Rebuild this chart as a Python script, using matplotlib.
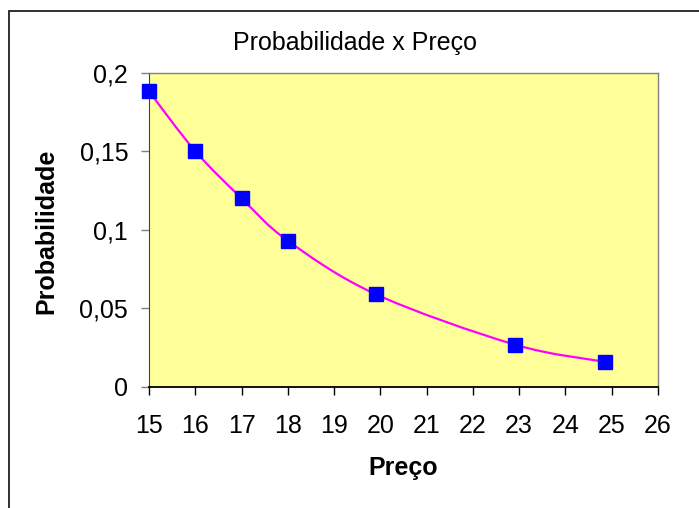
import numpy as np
import matplotlib.pyplot as plt
from matplotlib.path import Path
from matplotlib.patches import PathPatch, Rectangle

plt.rcParams['font.family'] = ['Liberation Sans', 'DejaVu Sans']

# data
preco = [15, 16, 17, 18, 19.9, 22.9, 24.85]
probabilidade = [0.188, 0.150, 0.120, 0.093, 0.059, 0.027, 0.016]
x_ticks = list(range(15, 27))
y_ticks = [0, 0.05, 0.1, 0.15, 0.2]
y_tick_labels = ['0', '0,05', '0,1', '0,15', '0,2']


def smooth_path(xs, ys):
    # Excel-style smoothed line (Catmull-Rom as cubic Bezier)
    pts = np.column_stack([xs, ys])
    ext = np.vstack([pts[0], pts, pts[-1]])
    verts = [pts[0]]
    codes = [Path.MOVETO]
    for i in range(1, len(ext) - 2):
        p0, p1, p2, p3 = ext[i - 1], ext[i], ext[i + 1], ext[i + 2]
        verts += [p1 + (p2 - p0) / 6, p2 - (p3 - p1) / 6, p2]
        codes += [Path.CURVE4] * 3
    return Path(verts, codes)


W, H = 699, 508
fig = plt.figure(figsize=(W / 100, H / 100), dpi=100)
ax = fig.add_axes([149 / W, 1 - 387 / H, 509 / W, 314.5 / H])
ax.set_facecolor('#FFFF99')

ax.add_patch(PathPatch(smooth_path(preco, probabilidade), facecolor='none',
                       edgecolor='#FF00FF', lw=1.6, zorder=2))
ax.plot(preco, probabilidade, ls='none', marker='s', ms=10,
        color='#0000FF', zorder=3, clip_on=False)

ax.set_xlim(15, 26)
ax.set_ylim(0, 0.2)
ax.set_xticks(x_ticks)
ax.set_yticks(y_ticks)
ax.set_yticklabels(y_tick_labels)

ax.tick_params(axis='x', direction='out', length=6, width=1, color='black',
               labelsize=18, pad=13.5)
ax.tick_params(axis='y', direction='out', length=6, width=1, color='#808080',
               labelsize=18, pad=9)
ax.spines['bottom'].set_color('black')
ax.spines['bottom'].set_linewidth(1.3)
ax.spines['left'].set_color('#404040')
for s in ['top', 'right']:
    ax.spines[s].set_color('#808080')
    ax.spines[s].set_linewidth(1)

fig.text(355 / W, 1 - 50 / H, 'Probabilidade x Preço', ha='center',
         va='baseline', fontsize=18)
fig.text(403.5 / W, 1 - 475 / H, 'Preço', ha='center', va='baseline',
         fontsize=18, fontweight='bold')
fig.text(46 / W, 1 - 231 / H, 'Probabilidade', ha='center', va='center',
         rotation=90, fontsize=18, fontweight='bold')

# outer chart frame (cut off at right and bottom)
fig.patches.append(Rectangle((8.5 / W, -0.1), 1.2, 0.1 + 1 - 11 / H,
                             transform=fig.transFigure, fill=False,
                             edgecolor='#202020', lw=1.3))

fig.savefig('out.png', dpi=100)
